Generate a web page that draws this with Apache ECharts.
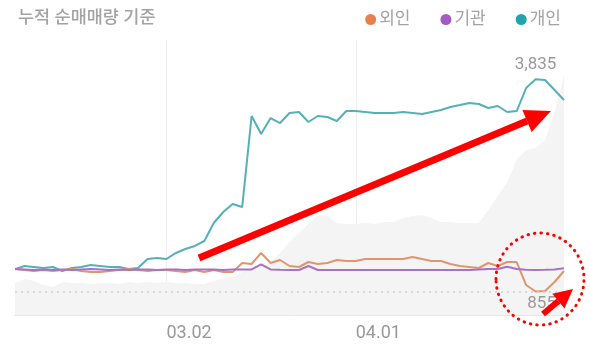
<!DOCTYPE html>
<html><head><meta charset="utf-8">
<script src="https://cdn.jsdelivr.net/npm/echarts@6/dist/echarts.min.js"></script>
<style>html,body{margin:0;padding:0;background:#fff}#c{width:590px;height:360px}</style>
</head><body><div id="c"></div>
<script>
const categories = ['02.07','02.10','02.11','02.12','02.13','02.14','02.17','02.18','02.19','02.20','02.21','02.24','02.25','02.26','02.27','02.28','03.02','03.03','03.04','03.05','03.06','03.11','03.12','03.13','03.16','03.17','03.18','03.19','03.20','03.23','03.24','03.25','03.26','03.27','03.30','03.31','04.01','04.02','04.03','04.06','04.07','04.08','04.09','04.10','04.13','04.14','04.16','04.17','04.20','04.21','04.22','04.23','04.24','04.27','04.28','04.29','05.04','05.06','05.07'];
const tickLabels = ['03.02','04.01'];
const legendNames = ['외인','기관','개인'];
const foreign = [1171,1157,1143,1157,1143,1157,1171,1143,1129,1129,1143,1157,1171,1157,1143,1157,1157,1143,1129,1157,1129,1157,1129,1129,1255,1241,1396,1255,1297,1213,1199,1269,1241,1255,1297,1283,1283,1311,1311,1311,1311,1311,1339,1311,1283,1283,1241,1213,1199,1185,1255,1213,1269,1269,946,855,862,988,1143];
const institution = [1171,1164,1157,1164,1157,1164,1157,1164,1171,1164,1157,1164,1157,1164,1164,1157,1164,1164,1157,1164,1164,1164,1157,1164,1164,1164,1237,1164,1160,1157,1157,1213,1157,1157,1157,1157,1157,1157,1157,1157,1157,1157,1157,1157,1157,1157,1157,1157,1157,1164,1171,1171,1203,1171,1160,1157,1160,1164,1181];
const individual = [1167,1213,1199,1185,1199,1143,1185,1199,1227,1213,1199,1199,1171,1185,1311,1325,1311,1396,1452,1494,1564,1817,1971,2084,2041,3319,3066,3290,3220,3361,3375,3235,3319,3305,3249,3389,3389,3375,3361,3361,3361,3375,3361,3347,3375,3403,3445,3473,3502,3487,3431,3459,3375,3389,3712,3835,3824,3684,3544];
const price = [31280,31440,31360,31200,31120,31320,31280,31280,31240,31280,31280,31240,31320,31280,31320,31280,31320,31280,31280,31240,31240,31360,31480,31560,31720,31840,31960,32120,32480,32920,33280,33640,34000,33960,33680,33640,33640,33680,33640,33720,33720,33880,33960,34000,33880,33720,33720,33680,33680,33680,34200,34760,35320,36200,36600,36680,37000,38120,39600];

const fmt = v => Number(v).toLocaleString('en-US');
const FONT = "Roboto, 'Noto Sans CJK KR', sans-serif";

function arrow(x1,y1,x2,y2,w,hl,hw){
  const dx=x2-x1, dy=y2-y1, L=Math.hypot(dx,dy), ux=dx/L, uy=dy/L, nx=-uy, ny=ux;
  const bx=x2-ux*hl, by=y2-uy*hl;
  return [
    {type:'polygon', z:100, shape:{points:[[x1+nx*w/2,y1+ny*w/2],[bx+nx*w/2,by+ny*w/2],[bx-nx*w/2,by-ny*w/2],[x1-nx*w/2,y1-ny*w/2]]}, style:{fill:'#ff0000'}},
    {type:'polygon', z:100, shape:{points:[[x2,y2],[bx+nx*hw/2,by+ny*hw/2],[bx-nx*hw/2,by-ny*hw/2]]}, style:{fill:'#ff0000'}}
  ];
}

const chart = echarts.init(document.getElementById('c'), null, {renderer:'canvas'});
chart.setOption({
  animation:false,
  backgroundColor:'#fff',
  title:{text:'누적 순매매량 기준', left:13, top:5, textStyle:{fontSize:17.5, color:'#a3a3a3', fontWeight:500, fontFamily:FONT}},
  legend:{data:legendNames, right:24, top:6, icon:'circle', itemWidth:11, itemHeight:11, itemGap:30,
    textStyle:{fontSize:17, color:'#a3a3a3', fontFamily:FONT, padding:[0,0,0,-2]}},
  grid:{left:15, right:26, top:40, bottom:45},
  xAxis:{type:'category', data:categories, boundaryGap:false,
    axisLine:{lineStyle:{color:'#e6e6e6'}}, axisTick:{show:false},
    axisLabel:{interval:(i,v)=>tickLabels.includes(v), align:'left', margin:10, fontSize:18, color:'#999', fontFamily:FONT},
    splitLine:{show:true, interval:(i,v)=>tickLabels.includes(v), lineStyle:{color:'#eeeeee', width:1}}},
  yAxis:[
    {type:'value', min:525, max:4386, show:false, splitLine:{show:false}},
    {type:'value', min:30000, max:41000, show:false, splitLine:{show:false}}
  ],
  series:[
    {name:'price', type:'line', yAxisIndex:1, data:price, symbol:'none', silent:true,
      lineStyle:{width:0}, areaStyle:{color:'#f4f4f4', opacity:1}, z:1},
    {name:'외인', type:'line', data:foreign, symbol:'none', color:'#e5814f',
      lineStyle:{color:'#e0956f', width:2}, z:3,
      markLine:{silent:true, symbol:'none', label:{show:false}, lineStyle:{color:'#d0d0d0', type:[2,4], width:1.5}, data:[{type:'min'}]},
      markPoint:{symbol:'circle', symbolSize:1, itemStyle:{color:'rgba(0,0,0,0)'},
        label:{show:true, position:'bottom', distance:3, offset:[6,0], formatter:p=>fmt(p.value), fontSize:17, color:'#999', fontFamily:FONT},
        data:[{type:'min'}]}},
    {name:'기관', type:'line', data:institution, symbol:'none', color:'#a45cc4',
      lineStyle:{color:'#a970c6', width:2}, z:4},
    {name:'개인', type:'line', data:individual, symbol:'none', color:'#1fa4b0',
      lineStyle:{color:'#55b0b8', width:2}, z:2,
      markPoint:{symbol:'circle', symbolSize:1, itemStyle:{color:'rgba(0,0,0,0)'},
        label:{show:true, position:'top', distance:5, formatter:p=>fmt(p.value), fontSize:17, color:'#999', fontFamily:FONT},
        data:[{type:'max'}]}}
  ],
  graphic:[
    ...arrow(199,258,551,111,7,26,24),
    ...arrow(543,314,573,289,6,19,19),
    {type:'ellipse', z:100, shape:{cx:540, cy:279, rx:44, ry:46},
      style:{fill:null, stroke:'#ff0000', lineWidth:3, lineDash:[0.5,6], lineCap:'round'}}
  ]
});
</script></body></html>
